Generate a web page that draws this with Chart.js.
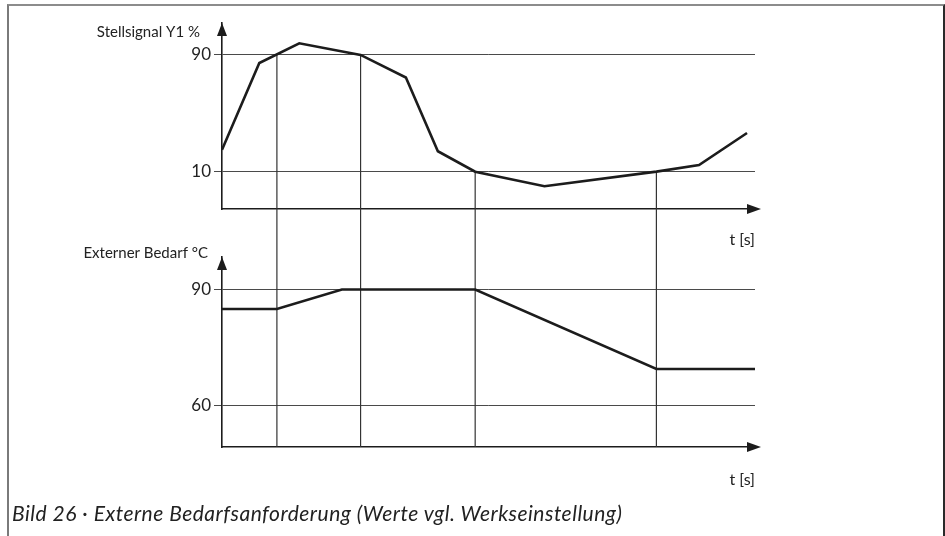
<!DOCTYPE html>
<html>
<head>
<meta charset="utf-8">
<script src="https://cdn.jsdelivr.net/npm/chart.js@4/dist/chart.umd.min.js"></script>
<style>
    body { margin: 0; width: 945px; height: 536px; background: #fff; overflow: hidden; position: relative; }
    .frame { position: absolute; left: 7px; top: 4px; width: 934px; height: 600px;
             border-top: 2px solid #8c8c8c; border-left: 2px solid #7a7a7a; border-right: 2px solid #2a2a2a; }
    canvas { position: absolute; left: 0; top: 0; }
    .caption { position: absolute; left: 12px; top: 500px; font-family: Lato, sans-serif; font-style: italic;
               font-size: 21px; letter-spacing: 0.5px; color: #222; white-space: nowrap; }
</style>
</head>
<body>
<div class="frame"></div>
<canvas id="signal-chart" width="945" height="536"></canvas>
<canvas id="demand-chart" width="945" height="536"></canvas>
<div class="caption">Bild 26 · Externe Bedarfsanforderung (Werte vgl. Werkseinstellung)</div>
<script>
// Stellsignal Y1 (%) over time
const signalTimes = [0, 7, 14.5, 26, 34.5, 40.5, 47.5, 60.5, 81.5, 89.5, 98.5];
const signalValues = [25, 84.5, 98, 90, 74.5, 24, 10, 0, 10, 14.5, 36.5];
const signalTicks = [10, 90];

// Externer Bedarf (°C) over time
const demandTimes = [0, 10.3, 22.5, 47.5, 81.5, 100];
const demandValues = [85, 85, 90, 90, 69.5, 69.5];
const demandTicks = [60, 90];

// vertical marker lines: time and the level in the upper diagram where they start
const markTimes = [10.3, 26, 47.5, 81.5];
const markLevels = [90, 90, 10, 10];

const SPLIT_Y = 233;
const ink = '#1c1c1c';

function arrows(ctx, area) {
    ctx.fillStyle = ink;
    ctx.beginPath();
    ctx.moveTo(area.left, area.top);
    ctx.lineTo(area.left - 5, area.top + 13);
    ctx.lineTo(area.left + 5, area.top + 13);
    ctx.closePath();
    ctx.fill();
    ctx.beginPath();
    ctx.moveTo(area.right + 6, area.bottom);
    ctx.lineTo(area.right - 8, area.bottom - 5);
    ctx.lineTo(area.right - 8, area.bottom + 5);
    ctx.closePath();
    ctx.fill();
}

function diagramPlugin(label, labelDx, labelDy, upper) {
    return {
        id: 'diagram',
        beforeDatasetsDraw(chart) {
            const ctx = chart.ctx;
            const x = chart.scales.x;
            const y = chart.scales.y;
            ctx.save();
            ctx.strokeStyle = '#333';
            ctx.lineWidth = 1.2;
            markTimes.forEach(function (t, i) {
                const px = x.getPixelForValue(t);
                ctx.beginPath();
                if (upper) {
                    ctx.moveTo(px, y.getPixelForValue(markLevels[i]));
                    ctx.lineTo(px, SPLIT_Y);
                } else {
                    ctx.moveTo(px, SPLIT_Y);
                    ctx.lineTo(px, chart.chartArea.bottom);
                }
                ctx.stroke();
            });
            ctx.restore();
        },
        afterDraw(chart) {
            const ctx = chart.ctx;
            const area = chart.chartArea;
            ctx.save();
            arrows(ctx, area);
            ctx.font = '15px Lato, sans-serif';
            ctx.textAlign = 'right';
            ctx.textBaseline = 'middle';
            ctx.fillStyle = '#222';
            ctx.fillText(label, area.left + labelDx, area.top + labelDy);
            ctx.restore();
        }
    };
}

function makeChart(canvasId, times, values, ticks, yMin, yMax, padTop, axisHeight, padBottom, plugin) {
    const points = times.map((t, i) => ({x: t, y: values[i]}));
    return new Chart(document.getElementById(canvasId), {
        type: 'line',
        data: {
            datasets: [{
                data: points,
                borderColor: ink,
                borderWidth: 2.6,
                pointRadius: 0,
                tension: 0,
                fill: false
            }]
        },
        options: {
            responsive: false,
            animation: false,
            events: [],
            layout: {padding: {left: 0, right: 190, top: padTop, bottom: padBottom}},
            plugins: {legend: {display: false}, tooltip: {enabled: false}},
            scales: {
                x: {
                    type: 'linear',
                    min: 0,
                    max: 100,
                    grid: {display: false},
                    border: {color: ink, width: 1.6},
                    ticks: {display: false},
                    title: {
                        display: true,
                        text: 't [s]',
                        align: 'end',
                        color: '#222',
                        font: {family: 'Lato', size: 16},
                        padding: {top: 0, bottom: 0.4}
                    },
                    afterFit: function (scale) { scale.height = axisHeight; }
                },
                y: {
                    type: 'linear',
                    min: yMin,
                    max: yMax,
                    afterBuildTicks: function (scale) {
                        scale.ticks = ticks.map(v => ({value: v}));
                    },
                    afterFit: function (scale) { scale.width = 222; },
                    grid: {color: '#4a4a4a', lineWidth: 1, tickLength: 8, drawTicks: true},
                    border: {color: ink, width: 1.6},
                    ticks: {color: '#222', padding: 3, font: {family: 'Lato', size: 17}}
                }
            }
        },
        plugins: [plugin]
    });
}

makeChart('signal-chart', signalTimes, signalValues, signalTicks, -15.6, 111.9, 23, 41, 286,
    diagramPlugin('Stellsignal Y1 %', -22, 9, true));
makeChart('demand-chart', demandTimes, demandValues, demandTicks, 49.4, 98.4, 257, 43, 46,
    diagramPlugin('Externer Bedarf °C', -14, -4, false));
</script>
</body>
</html>
